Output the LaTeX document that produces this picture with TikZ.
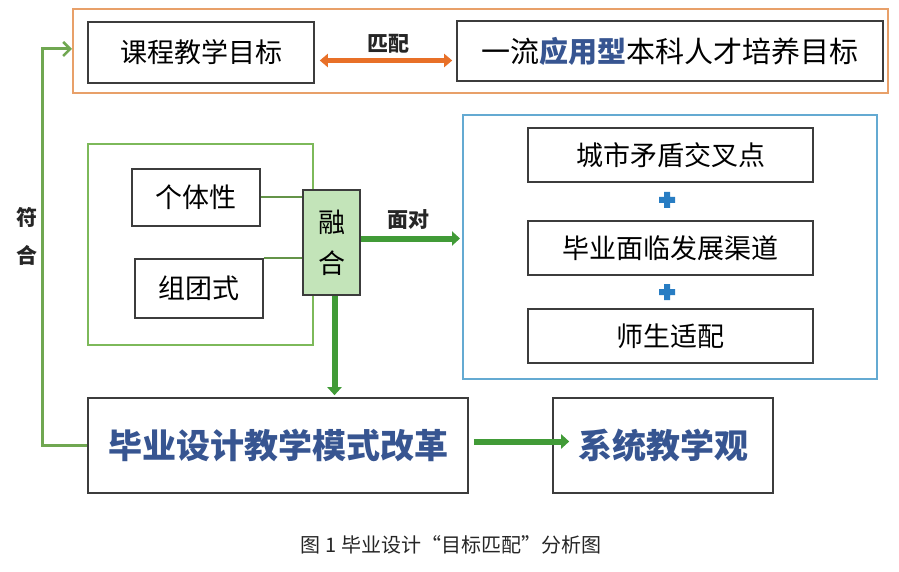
\documentclass[tikz,border=0pt]{standalone}
\usepackage{fontspec}
\setmainfont{Noto Sans CJK SC}
\usetikzlibrary{arrows.meta}
\definecolor{orfr}{RGB}{232,160,105}
\definecolor{orar}{RGB}{232,112,40}
\definecolor{grfr}{RGB}{125,185,90}
\definecolor{grar}{RGB}{65,155,55}
\definecolor{blfr}{RGB}{100,170,210}
\definecolor{plusbl}{RGB}{40,125,195}
\definecolor{rhfill}{RGB}{195,228,185}
\definecolor{txtbl}{RGB}{55,85,145}
\definecolor{boxln}{RGB}{60,60,60}
\tikzset{
  tbox/.style={draw=boxln,line width=1.6pt,fill=white,inner sep=0pt,font=\fontsize{27}{32}\selectfont},
  frame/.style={inner sep=0pt,line width=2pt},
  garrow/.style={draw=grar,line width=6pt,-{Triangle[width=14pt,length=8pt]}},
  lbl/.style={font=\bfseries\fontsize{21}{24}\selectfont,text=black!85}
}
\begin{document}
\begin{tikzpicture}[x=1pt,y=-1pt]
\useasboundingbox[fill=white] (0,0) rectangle (899,572);
% frames
\node[frame,draw=orfr,minimum width=815pt,minimum height=84pt] (topframe) at (480.5,51) {};
\node[frame,draw=grfr,minimum width=225pt,minimum height=201pt] (gframe) at (200.5,244.5) {};
\node[frame,draw=blfr,minimum width=414pt,minimum height=264pt] (bframe) at (670,247) {};
% top boxes
\node[tbox,minimum width=226pt,minimum height=61pt] (kc) at (201,52.5) {课程教学目标};
\node[tbox,minimum width=426pt,minimum height=60pt,font=\fontsize{29}{34}\selectfont] (yl) at (670,51) {一流\textcolor{txtbl}{\bfseries 应用型}本科人才培养目标};
% left group
\node[tbox,minimum width=128pt,minimum height=57pt] (gt) at (196,197.5) {个体性};
\node[tbox,minimum width=128pt,minimum height=59pt] (zt) at (199,288.5) {组团式};
\node[tbox,fill=rhfill,minimum width=57pt,minimum height=105pt,align=center,font=\fontsize{27}{41}\selectfont] (rh) at (331.5,242.5) {融\\合};
% right group
\node[tbox,minimum width=285pt,minimum height=54pt] (c1) at (670.5,155) {城市矛盾交叉点};
\node[tbox,minimum width=285pt,minimum height=54pt] (c2) at (670.5,248) {毕业面临发展渠道};
\node[tbox,minimum width=285pt,minimum height=54pt] (c3) at (670.5,336) {师生适配};
\fill[plusbl] (659,197) rectangle (675,203) (664,192) rectangle (670,208);
\fill[plusbl] (659,289) rectangle (675,295) (664,284) rectangle (670,300);
% bottom boxes
\node[tbox,minimum width=380pt,minimum height=95pt,font=\bfseries\fontsize{34}{40}\selectfont,text=txtbl] (bg) at (278,445.5) {毕业设计教学模式改革};
\node[tbox,minimum width=220pt,minimum height=95pt,font=\bfseries\fontsize{34}{40}\selectfont,text=txtbl] (xt) at (663,445.5) {系统教学观};
% connectors
\draw[orar,line width=5pt,{Triangle[width=13pt,length=8pt]}-{Triangle[width=13pt,length=8pt]},shorten <=5pt,shorten >=4pt]
  ([yshift=-8pt]kc.east) -- ([yshift=-8pt]kc.east -| yl.west);
\node[lbl] (pp) at (388,44) {匹配};
\coordinate (fh) at (42,49);
\draw[grfr!90!black,line width=3pt,-{Straight Barb[width=14pt,length=7pt,line width=2.5pt]}] (bg.west) -| (fh) -- (fh -| topframe.west);
\node[lbl,align=center,font=\bfseries\fontsize{21}{38}\selectfont] (fuhe) at (27,236) {符\\合};
\draw[grfr!80!black,line width=2pt] (gt.east) -- (gt.east -| rh.west);
\draw[grfr!80!black,line width=2pt] (zt.north east) -- (zt.north east -| rh.west);
\draw[garrow,shorten >=2pt] ([yshift=4pt]rh.east) -- ([yshift=4pt]rh.east -| bframe.west);
\node[lbl] (md) at (408,220) {面对};
\draw[garrow,shorten >=2pt] ([xshift=3pt]rh.south) -- ([xshift=3pt]rh.south |- bg.north);
\draw[garrow,shorten <=5pt,shorten >=-17pt] ([yshift=4pt]bg.east) -- ([yshift=4pt]bg.east -| xt.west);
% caption
\node[font=\fontsize{20}{24}\selectfont,text=black!85] (cap) at (451,545) {图 1 毕业设计“目标匹配”分析图};
\end{tikzpicture}
\end{document}
